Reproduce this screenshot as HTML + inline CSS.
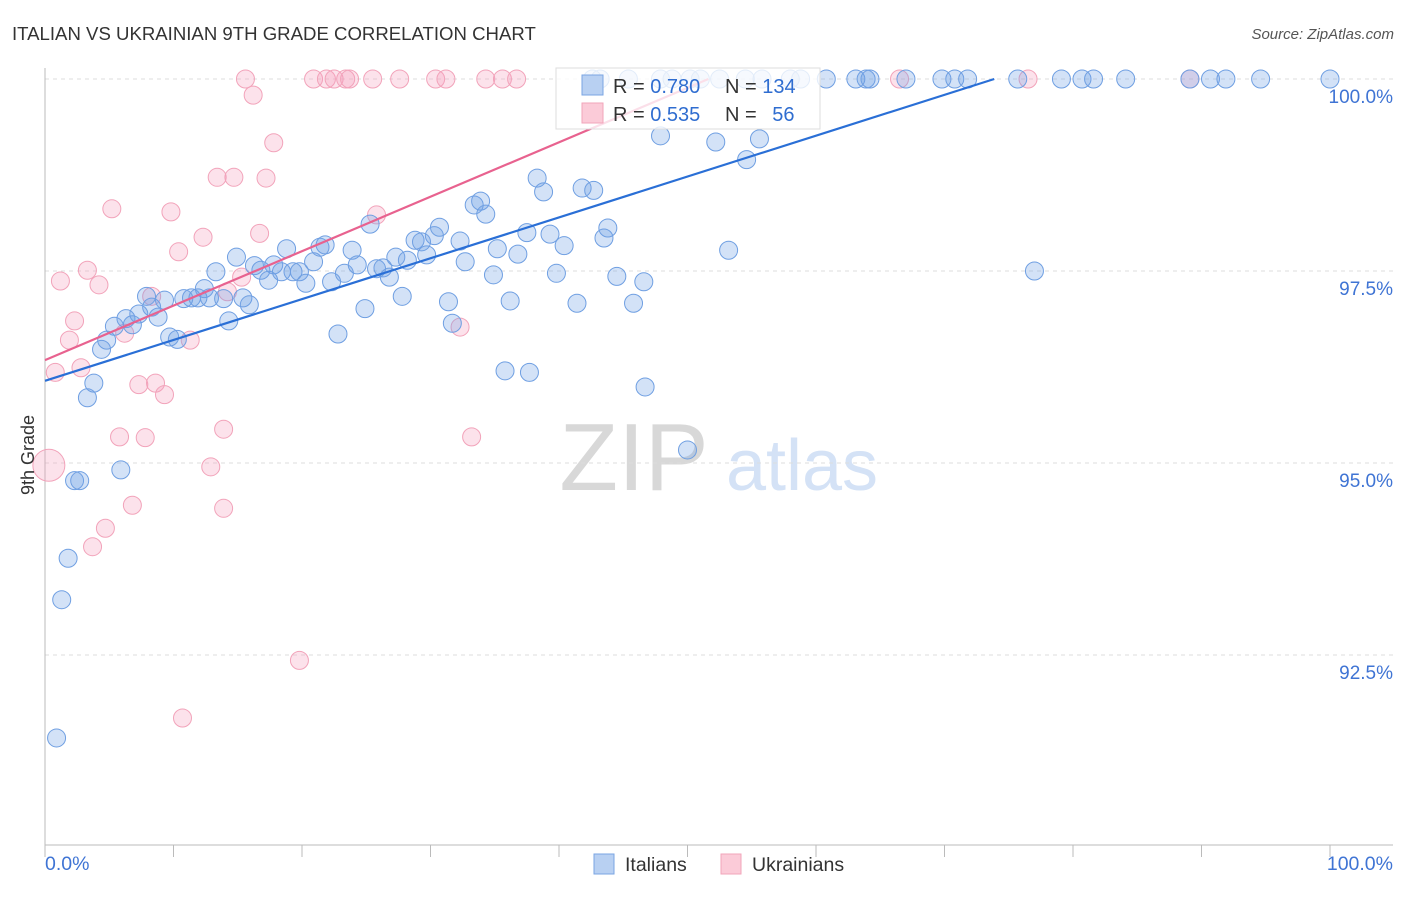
<!DOCTYPE html>
<html><head><meta charset="utf-8"><style>
body{margin:0;background:#fff;font-family:"Liberation Sans",sans-serif}
svg text{font-family:"Liberation Sans",sans-serif}
</style></head><body>
<svg id="chart" width="1406" height="892" xmlns="http://www.w3.org/2000/svg">
<text x="12" y="40" font-size="18.6" fill="#333">ITALIAN VS UKRAINIAN 9TH GRADE CORRELATION CHART</text>
<text x="1394" y="39" font-size="15" fill="#555" text-anchor="end" font-style="italic">Source: ZipAtlas.com</text>
<text x="634" y="490" font-size="96" fill="#d8d8d8" text-anchor="middle" font-family="Liberation Serif">ZIP</text>
<text x="802" y="490" font-size="72" fill="#d4e2f6" text-anchor="middle">atlas</text>
<g id="grid"></g><g id="axes"></g><g id="marks"></g><g id="lines"></g>
<text transform="translate(34,455) rotate(-90)" font-size="18" fill="#333" text-anchor="middle">9th Grade</text>
<g>
<rect x="556" y="68" width="264" height="61" fill="#fff" fill-opacity="0.8" stroke="#ddd"/>
<rect x="582" y="75" width="21" height="20" fill="#b8d0f2" stroke="#7aa5e3"/>
<rect x="582" y="103" width="21" height="20" fill="#fbcbd8" stroke="#f2a5ba"/>
<text x="613" y="93" font-size="20" fill="#333">R = <tspan fill="#2f6dd0">0.780</tspan></text>
<text x="725" y="93" font-size="20" fill="#333">N = <tspan fill="#2f6dd0">134</tspan></text>
<text x="613" y="121" font-size="20" fill="#333">R = <tspan fill="#2f6dd0">0.535</tspan></text>
<text x="725" y="121" font-size="20" fill="#333">N = <tspan fill="#2f6dd0" dx="10">56</tspan></text>
</g>
<g>
<rect x="594" y="854" width="20" height="20" fill="#b8d0f2" stroke="#7aa5e3"/>
<text x="625" y="871" font-size="19.5" fill="#333">Italians</text>
<rect x="721" y="854" width="20" height="20" fill="#fbcbd8" stroke="#f2a5ba"/>
<text x="752" y="871" font-size="19.5" fill="#333">Ukrainians</text>
</g>
</svg>
<script>
const yTicks=[100,97.5,95,92.5];
const yTickLabels=["100.0%","97.5%","95.0%","92.5%"];
const xTickVals=[0,10,20,30,40,50,60,70,80,90,100];
const xEndLabels=["0.0%","100.0%"];
const italiansX=[0.9,1.3,1.8,2.3,2.7,5.9,3.3,3.8,4.4,4.8,5.4,6.3,6.8,7.3,7.9,8.3,8.8,9.3,9.7,10.3,10.8,11.4,11.9,12.4,12.8,13.3,13.9,14.3,14.9,15.4,15.9,16.3,16.8,17.4,17.8,18.4,18.8,19.3,19.8,20.3,20.9,21.4,21.8,22.3,22.8,23.3,23.9,24.3,24.9,25.3,25.8,26.3,26.8,27.3,27.8,28.2,28.8,29.3,29.7,30.3,30.7,31.4,31.7,32.3,32.7,33.4,33.9,34.3,34.9,35.2,35.8,36.2,36.8,37.5,37.7,38.3,38.8,39.3,39.8,40.4,41.4,41.8,42.7,43.5,43.8,44.5,45.8,46.6,46.7,47.9,50.0,52.2,53.2,54.6,55.6,77.0,
42.6,43.2,45.4,47.9,48.8,50.2,51.0,52.5,54.5,55.8,58.0,58.8,60.8,63.1,63.9,64.2,67.0,69.8,70.8,71.8,75.7,79.1,80.7,81.6,84.1,89.1,90.7,91.9,94.6,100];
const italiansY=[91.42,93.22,93.76,94.77,94.77,94.91,95.85,96.04,96.48,96.60,96.78,96.88,96.80,96.94,97.17,97.03,96.90,97.12,96.64,96.61,97.14,97.15,97.15,97.27,97.15,97.49,97.14,96.85,97.68,97.15,97.06,97.57,97.51,97.38,97.58,97.49,97.79,97.49,97.49,97.34,97.62,97.81,97.84,97.36,96.68,97.47,97.77,97.58,97.01,98.11,97.53,97.54,97.42,97.68,97.17,97.64,97.90,97.88,97.71,97.96,98.07,97.10,96.82,97.89,97.62,98.36,98.41,98.24,97.45,97.79,96.20,97.11,97.72,98.00,96.18,98.71,98.53,97.98,97.47,97.83,97.08,98.58,98.55,97.93,98.06,97.43,97.08,97.36,95.99,99.26,95.17,99.18,97.77,98.95,99.22,97.50,
100,100,100,100,100,100,100,100,100,100,100,100,100,100,100,100,100,100,100,100,100,100,100,100,100,100,100,100,100,100];
const ukrX=[0.3,0.8,1.2,1.9,2.3,2.8,3.3,3.7,4.2,4.7,5.2,5.8,6.2,6.8,7.3,7.8,8.3,8.6,9.3,9.8,10.4,10.7,11.3,12.3,12.9,13.4,13.9,13.9,14.2,14.7,15.3,15.6,16.2,16.7,17.2,17.8,19.8,20.9,21.9,22.5,23.4,23.7,25.8,25.5,27.6,30.4,31.2,32.3,33.2,34.3,35.6,36.7,66.5,76.5,89.1];
const ukrY=[94.97,96.18,97.37,96.60,96.85,96.24,97.51,93.91,97.32,94.15,98.31,95.34,96.69,94.45,96.02,95.33,97.17,96.04,95.89,98.27,97.75,91.68,96.60,97.94,94.95,98.72,94.41,95.44,97.23,98.72,97.42,100,99.79,97.99,98.71,99.17,92.43,100,100,100,100,100,98.23,100,100,100,100,96.77,95.34,100,100,100,100,100,100];
const trendIntercepts=[96.07,96.34];
const trendSlopes=[0.0532,0.0709];
const NS="http://www.w3.org/2000/svg";
const X0=45,X1=1330,L=45,R=1393,B=845;
const sx=v=>X0+(X1-X0)*v/100;
const sy=v=>79+(100-v)*76.8;
function mk(t,a,p){const e=document.createElementNS(NS,t);for(const k in a)e.setAttribute(k,a[k]);p.appendChild(e);return e;}
const grid=document.getElementById('grid'),axes=document.getElementById('axes'),marks=document.getElementById('marks'),lines=document.getElementById('lines');
yTicks.forEach((v,i)=>{
 const g=mk('line',{x1:L,x2:R,y1:sy(v),y2:sy(v),stroke:'#ddd','stroke-dasharray':'4,4'},grid);
 
 
 const t=mk('text',{x:1393,y:sy(v)+24,'font-size':19,fill:'#3f74d4','text-anchor':'end'},axes);
 t.textContent=yTickLabels[i];
 
 
});
const ax=mk('line',{x1:L,x2:L,y1:68,y2:B,stroke:'#bbb'},axes);


const bx=mk('line',{x1:L,x2:R,y1:B,y2:B,stroke:'#bbb'},axes);


xTickVals.forEach(v=>{
 const t=mk('line',{x1:sx(v),x2:sx(v),y1:B,y2:B+12,stroke:'#bbb'},axes);
 
 
});
[[0,'start',xEndLabels[0]],[100,'end',xEndLabels[1]]].forEach(([v,a,s])=>{
 const t=mk('text',{x:v===0?sx(v):1393,y:870,'font-size':19.5,fill:'#3f74d4','text-anchor':a},axes);
 t.textContent=s;
 
 
});
function pts(xs,ys,fill,stroke,name){
 xs.forEach((x,i)=>{
  const r=(name==='ukrainians-point'&&i===0)?16:9;
  const c=mk('circle',{cx:sx(x),cy:sy(ys[i]),r:r,fill:fill,stroke:stroke,'stroke-width':1},marks);
  
  
 });
}
pts(ukrX,ukrY,'rgba(245,160,190,0.3)','#f2a3ba','ukrainians-point');
pts(italiansX,italiansY,'rgba(110,160,230,0.3)','#6f9fe2','italians-point');
const cols=['#2a6fd6','#e8628f'],names=['italians-trendline','ukrainians-trendline'];
trendIntercepts.forEach((b,i)=>{
 const m=trendSlopes[i];const xe=Math.min(100,(100-b)/m);
 const l=mk('line',{x1:sx(0),y1:sy(b),x2:sx(xe),y2:sy(b+m*xe),stroke:cols[i],'stroke-width':2.2},lines);
 
 
});
</script>
</body></html>
